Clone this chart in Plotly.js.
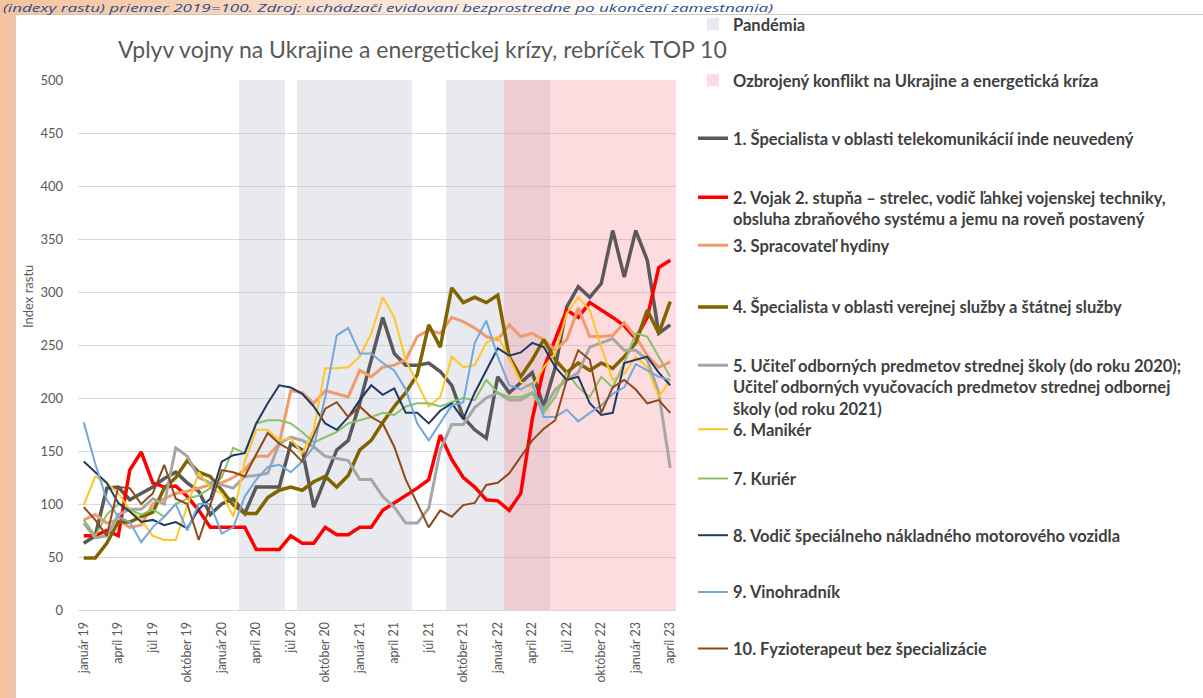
<!DOCTYPE html>
<html><head><meta charset="utf-8">
<script src="https://cdn.plot.ly/plotly-3.0.1.min.js"></script>
<style>
html,body{margin:0;padding:0;width:1203px;height:698px;overflow:hidden;}
body{background:linear-gradient(to right,#F4C29E 0px,#F9D8C0 260px,#FFFFFF 650px);position:relative;}
#card{position:absolute;left:15px;top:14px;width:1188px;height:684px;background:#fff;border-top:1px solid #CFC6BC;border-left:1px solid #D9CFC5;}
#note{position:absolute;left:3px;top:2px;white-space:nowrap;font-family:'Open Sans',sans-serif;font-style:italic;font-size:11px;color:#2B4C8C;line-height:11px;transform:scaleX(1.55);transform-origin:0 0;}
#chart{position:absolute;left:0;top:0;width:1203px;height:698px;}
</style></head><body>
<div id="card"></div>
<div id="note">(indexy rastu) priemer 2019=100. Zdroj: uchádzači evidovaní bezprostredne po ukončení zamestnania)</div>
<div id="chart"></div>
<script>
const months = [
"január 19","február 19","marec 19","apríl 19","máj 19","jún 19","júl 19","august 19","september 19","október 19","november 19","december 19",
"január 20","február 20","marec 20","apríl 20","máj 20","jún 20","júl 20","august 20","september 20","október 20","november 20","december 20",
"január 21","február 21","marec 21","apríl 21","máj 21","jún 21","júl 21","august 21","september 21","október 21","november 21","december 21",
"január 22","február 22","marec 22","apríl 22","máj 22","jún 22","júl 22","august 22","september 22","október 22","november 22","december 22",
"január 23","február 23","marec 23","apríl 23"];
const tickLabels = ["január 19","apríl 19","júl 19","október 19","január 20","apríl 20","júl 20","október 20","január 21","apríl 21","júl 21","október 21","január 22","apríl 22","júl 22","október 22","január 23","apríl 23"];

const pandemia = [null,null,null,null,null,null,null,null,null,null,null,null,
null,null,500,500,500,500,null,500,500,500,500,500,
500,500,500,500,500,null,null,null,500,500,500,500,
500,500,500,500,500,null,null,null,null,null,null,null,
null,null,null,null];
const konflikt = [null,null,null,null,null,null,null,null,null,null,null,null,
null,null,null,null,null,null,null,null,null,null,null,null,
null,null,null,null,null,null,null,null,null,null,null,null,
null,500,500,500,500,500,500,500,500,500,500,500,
500,500,500,500];

const s1 = [63,70,115,116,104,110,116,124,130,120,112,90,100,105,91,116,116,116,157,151,97,123,151,160,195,236,276,242,231,231,233,225,212,182,170,162,220,205,214,224,192,229,286,305,295,308,358,314,358,330,261,269];
const s2 = [70,70,75,70,132,149,120,116,117,107,94,78,78,78,78,57,57,57,70,63,63,78,71,71,78,78,94,101,108,115,123,165,142,125,116,104,103,94,110,180,228,255,283,276,290,283,276,268,256,276,323,330];
const s3 = [85,90,82,85,78,80,100,105,110,112,115,118,120,125,132,145,145,157,207,205,195,207,204,201,226,220,229,231,236,258,264,261,276,272,266,258,255,269,258,261,255,245,255,285,258,258,259,271,258,240,229,234];
const s4 = [49,49,63,83,83,88,92,115,125,141,130,126,113,99,91,91,106,113,116,113,121,126,116,127,151,160,177,192,205,222,269,248,304,290,295,290,297,239,220,236,255,236,224,233,226,233,228,239,252,283,261,291];
const s5 = [82,68,70,90,95,95,105,100,153,145,125,120,118,115,126,127,129,157,163,160,154,145,143,141,123,123,107,97,82,82,96,151,175,175,191,200,205,198,198,205,189,208,217,224,248,252,256,245,245,236,205,134];
const s6 = [99,126,120,110,95,85,70,66,66,97,130,115,110,88,140,170,170,160,162,148,170,228,228,229,239,261,295,276,236,214,192,201,239,229,231,252,258,238,215,210,229,242,280,295,283,248,217,223,239,229,201,217];
const s7 = [85,70,90,100,95,90,95,88,100,105,108,115,125,153,148,176,179,179,176,168,158,163,168,176,179,182,186,184,192,195,195,192,196,200,198,217,205,201,201,205,186,201,224,210,201,220,210,233,261,258,239,220];
const s8 = [140,130,120,101,93,83,85,80,83,77,95,105,140,146,148,176,195,212,210,204,192,176,170,182,198,212,203,209,186,186,176,188,195,180,205,226,247,240,243,252,248,229,217,220,195,184,186,233,236,239,224,212];
const s9 = [177,138,104,88,83,64,78,88,100,75,100,100,72,78,107,123,135,137,130,140,154,201,259,266,242,242,233,226,208,176,160,176,193,196,252,273,239,212,208,214,182,182,189,178,186,193,204,210,232,226,220,217];
const s10 = [97,85,70,116,115,100,110,137,105,100,66,100,132,130,126,147,167,157,151,140,165,190,196,182,192,182,176,154,123,101,78,94,88,99,101,118,120,129,145,160,171,179,217,245,236,186,210,217,208,195,198,186];

const seriesNames = [
"1. Špecialista v oblasti telekomunikácií inde neuvedený",
"2. Vojak 2. stupňa – strelec, vodič ľahkej vojenskej techniky,<br>obsluha zbraňového systému a jemu na roveň postavený",
"3. Spracovateľ hydiny",
"4. Špecialista v oblasti verejnej služby a štátnej služby",
"5. Učiteľ odborných predmetov strednej školy (do roku 2020);<br>Učiteľ odborných vyučovacích predmetov strednej odbornej<br>školy (od roku 2021)",
"6. Manikér",
"7. Kuriér",
"8. Vodič špeciálneho nákladného motorového vozidla",
"9. Vinohradník",
"10. Fyzioterapeut bez špecializácie"];
const shadeNames = ["Pandémia","Ozbrojený konflikt na Ukrajine a energetická kríza"];

const seriesValues = [s1,s2,s3,s4,s5,s6,s7,s8,s9,s10];
const colors = ['#595959','#FF0000','#F19B6B','#7F6500','#A6A6A6','#FFC629','#8CC168','#1F3864','#72A8DC','#8E4A1A'];
const widths = [3.5,3.5,3,3.5,3,2,2,2,2,2];

// plot area geometry (px)
const W=1203,H=698,L=78,R=676,T=80,B=610;
const pw=R-L, ph=B-T;
const legendX = (693-L)/pw;
// first-line centre of each legend entry (px)
const legendLineY = [24,80,138,197,245,306.7,365,429,478.3,535,591.7,648.3];
const legendOff = 17;

const traces = [];
const legendKey = i => i===0 ? 'legend' : 'legend'+(i+1);
traces.push({type:'bar',x:months,y:pandemia,name:shadeNames[0],marker:{color:'rgba(190,196,210,0.36)',line:{width:0}},legend:legendKey(0),hoverinfo:'skip'});
traces.push({type:'bar',x:months,y:konflikt,name:shadeNames[1],marker:{color:'rgba(248,140,150,0.3)',line:{width:0}},legend:legendKey(1),hoverinfo:'skip'});
seriesValues.forEach((v,k)=>{
  traces.push({type:'scatter',mode:'lines',x:months,y:v,name:seriesNames[k],
    line:{color:colors[k],width:widths[k]},legend:legendKey(k+2),hoverinfo:'skip'});
});

const layout = {
  width:W,height:H,
  paper_bgcolor:'rgba(0,0,0,0)',plot_bgcolor:'rgba(0,0,0,0)',
  margin:{l:L,r:W-R,t:T,b:H-B,pad:0,autoexpand:false},
  barmode:'overlay',bargap:0,
  showlegend:true,
  font:{family:'Lato, sans-serif',color:'#595959'},
  title:{text:'Vplyv vojny na Ukrajine a energetickej krízy, rebríček TOP 10',
    font:{family:'Lato, sans-serif',size:23,color:'#595959'},automargin:false,
    xref:'container',yref:'container',x:118/W,xanchor:'left',y:1-50/H,yanchor:'middle'},
  xaxis:{type:'category',range:[-0.5,51.5],tickmode:'array',tickvals:tickLabels,ticktext:tickLabels,automargin:false,
    tickangle:-90,tickfont:{family:'Lato, sans-serif',size:12.5,color:'#595959'},
    showgrid:false,zeroline:false,showline:true,linecolor:'#D9D9D9',linewidth:1,ticks:'',ticklabelstandoff:6,fixedrange:true},
  yaxis:{range:[0,500],dtick:50,tick0:0,showgrid:true,gridcolor:'#D9D9D9',gridwidth:1,zeroline:false,showline:false,automargin:false,
    ticks:'',tickfont:{family:'Lato, sans-serif',size:13,color:'#595959'},ticklabelstandoff:14,fixedrange:true},
  annotations:[{text:'Index rastu',xref:'paper',yref:'paper',x:(28-L)/pw,y:(B-297)/ph,textangle:-90,showarrow:false,
    font:{family:'Lato, sans-serif',size:13,color:'#595959'},xanchor:'center',yanchor:'middle'}]
};
for(let i=0;i<12;i++){
  layout[legendKey(i)] = {x:legendX,xanchor:'left',y:(B-(legendLineY[i]-legendOff))/ph,yanchor:'top',
    bgcolor:'rgba(0,0,0,0)',borderwidth:0,valign:'top',itemclick:false,itemdoubleclick:false,
    font:{family:'Lato, sans-serif',size:16.5,color:'#404040',weight:'bold'}};
}
Plotly.newPlot('chart',traces,layout,{displayModeBar:false,staticPlot:true});
</script></body></html>
